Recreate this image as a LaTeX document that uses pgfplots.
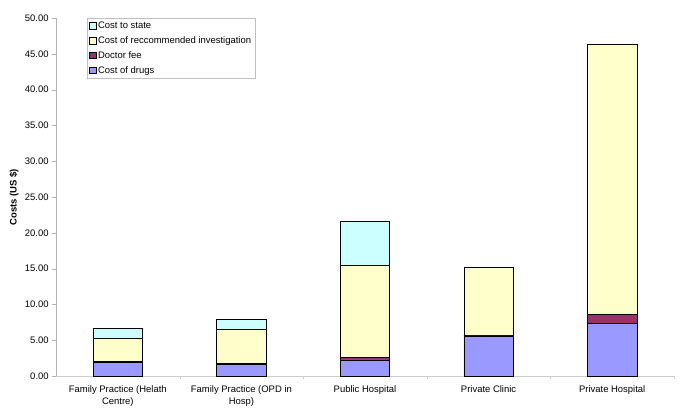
\documentclass[border=0pt]{standalone}
\usepackage{pgfplots}
\pgfplotsset{compat=1.18}
\usepackage{fontspec}
\setmainfont{Liberation Sans}
\definecolor{drugs}{HTML}{9999FF}
\definecolor{fee}{HTML}{993366}
\definecolor{invest}{HTML}{FFFFCC}
\definecolor{state}{HTML}{CCFFFF}
\newcommand{\chartfont}{\fontsize{9.5}{12}\selectfont}
\begin{document}
\chartfont
\begin{tikzpicture}
\begin{axis}[
    scale only axis,
    width=618bp, height=358bp,
    ybar stacked,
    bar width=0.4,
    xmin=-0.5, xmax=4.5,
    ymin=0, ymax=50,
    ytick={0,5,...,50},
    xtick={0,1,2,3,4},
    xticklabels={{Family Practice (Helath\\Centre)},{Family Practice (OPD in\\Hosp)},{Public Hospital},{Private Clinic},{Private Hospital}},
    xticklabel style={align=center, font=\chartfont, yshift=-2pt},
    yticklabel style={font=\chartfont},
    major x tick style={draw=none},
    minor xtick={0.5,1.5,2.5,3.5,4.5},
    minor x tick style={gray!40},
    minor tick length=3pt,
    major tick length=4pt,
    tick align=outside,
    y tick style={gray!60},
    axis x line*=bottom,
    axis y line*=left,
    x axis line style={gray!40, -},
    y axis line style={gray!60, -},
    /pgf/number format/.cd, fixed, fixed zerofill, precision=2, assume math mode=true,
    /pgfplots/.cd,
    ylabel={\bfseries Costs (US \$)},
    ylabel style={font=\chartfont},
    every axis plot/.append style={draw=black, line width=0.6pt},
    reverse legend,
    legend style={at={(0.05,1.0)}, anchor=north west, draw=gray!50, font=\chartfont, row sep=2.5pt, inner sep=2pt},
    legend cell align=left,
    legend image code/.code={\draw[#1, draw=black, line width=0.5pt] (0pt,-3pt) rectangle (6.5pt,3.5pt);},
]
\addplot[fill=drugs] coordinates {(0,1.9) (1,1.65) (2,2.25) (3,5.6) (4,7.35)};
\addplot[fill=fee] coordinates {(0,0.1) (1,0.1) (2,0.3) (3,0.1) (4,1.3)};
\addplot[fill=invest] coordinates {(0,3.25) (1,4.77) (2,12.95) (3,9.5) (4,37.7)};
\addplot[fill=state] coordinates {(0,1.4) (1,1.44) (2,6.05) (3,0) (4,0)};
\legend{Cost of drugs, Doctor fee, Cost of reccommended investigation, Cost to state}
\end{axis}
\pgfresetboundingbox
\path (current axis.south west) ++(-56bp,-40bp) rectangle ++(685bp,416bp);
\end{tikzpicture}
\end{document}
